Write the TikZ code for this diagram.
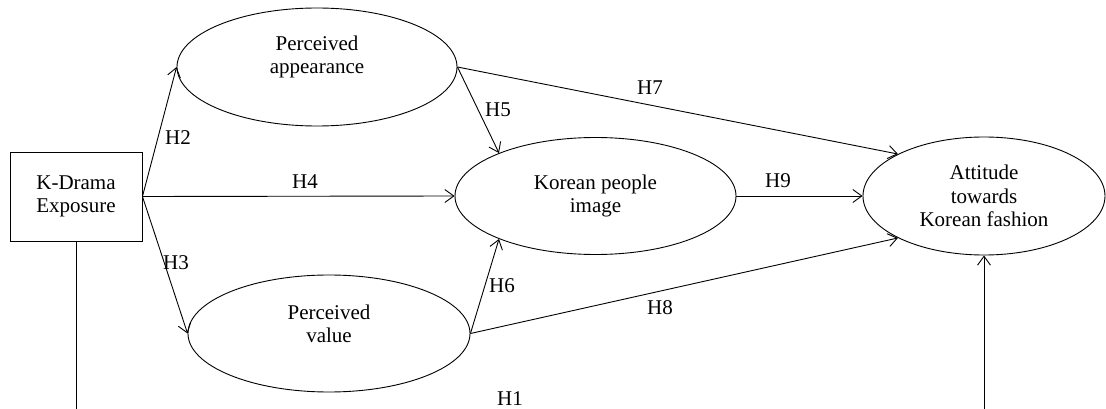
\documentclass[tikz,border=0pt]{standalone}
\usepackage{fontspec}
\setmainfont{Liberation Serif}
\usetikzlibrary{shapes.geometric,arrows.meta}
\begin{document}
\begin{tikzpicture}[x=1pt,y=-1pt,
  every node/.style={font=\fontsize{21}{23.5}\selectfont, text=black},
  oval/.style={draw, line width=0.9pt, ellipse, inner sep=0pt, align=center},
  txt/.style={inner sep=0pt, align=center},
  sqbox/.style={draw, line width=0.9pt, rectangle, inner sep=0pt, align=center, minimum width=132pt, minimum height=89pt},
  conn/.style={line width=0.9pt, -{Straight Barb[length=9pt,width=13pt,line width=0.9pt]}},
  plain/.style={line width=0.9pt},
  hlab/.style={inner sep=0pt}]
\useasboundingbox (0,0) rectangle (1106,409);
\node[sqbox] (kd) at (76,196.5) {K-Drama\\Exposure};
\node[oval, minimum width=280pt, minimum height=118pt] (app) at (317,67) {};
\node[txt] (appt) at (317,57) {Perceived\\appearance};
\node[oval, minimum width=281pt, minimum height=117pt] (kpi) at (595.5,196) {Korean people\\image};
\node[oval, minimum width=242pt, minimum height=118pt] (att) at (984,196) {Attitude\\towards\\Korean fashion};
\node[oval, minimum width=282pt, minimum height=117pt] (val) at (329,333.5) {};
\node[txt] (valt) at (329,324) {Perceived\\value};
\coordinate (b1) at (76,409);
\coordinate (b2) at (984,409);
\draw[conn] (kd.east) -- (app.west);
\draw[conn] (kd.east) -- (kpi.west);
\draw[conn] (kd.east) -- (val.west);
\draw[conn] (app.east) -- (kpi.156);
\draw[conn] (val.east) -- (kpi.204);
\draw[conn] (app.east) -- (att.154);
\draw[conn] (val.east) -- (att.206);
\draw[conn] (kpi.east) -- (att.west);
\draw[plain] (kd.south) -- (b1);
\draw[conn] (b2) -- (att.south);
\node[hlab] (h2) at (178,138) {H2};
\node[hlab] (h3) at (176,263) {H3};
\node[hlab] (h4) at (305,182) {H4};
\node[hlab] (h5) at (498,110) {H5};
\node[hlab] (h6) at (502,286) {H6};
\node[hlab] (h7) at (650,88) {H7};
\node[hlab] (h8) at (660,308) {H8};
\node[hlab] (h9) at (778,181) {H9};
\node[hlab] (h1) at (510,399) {H1};
\end{tikzpicture}
\end{document}
